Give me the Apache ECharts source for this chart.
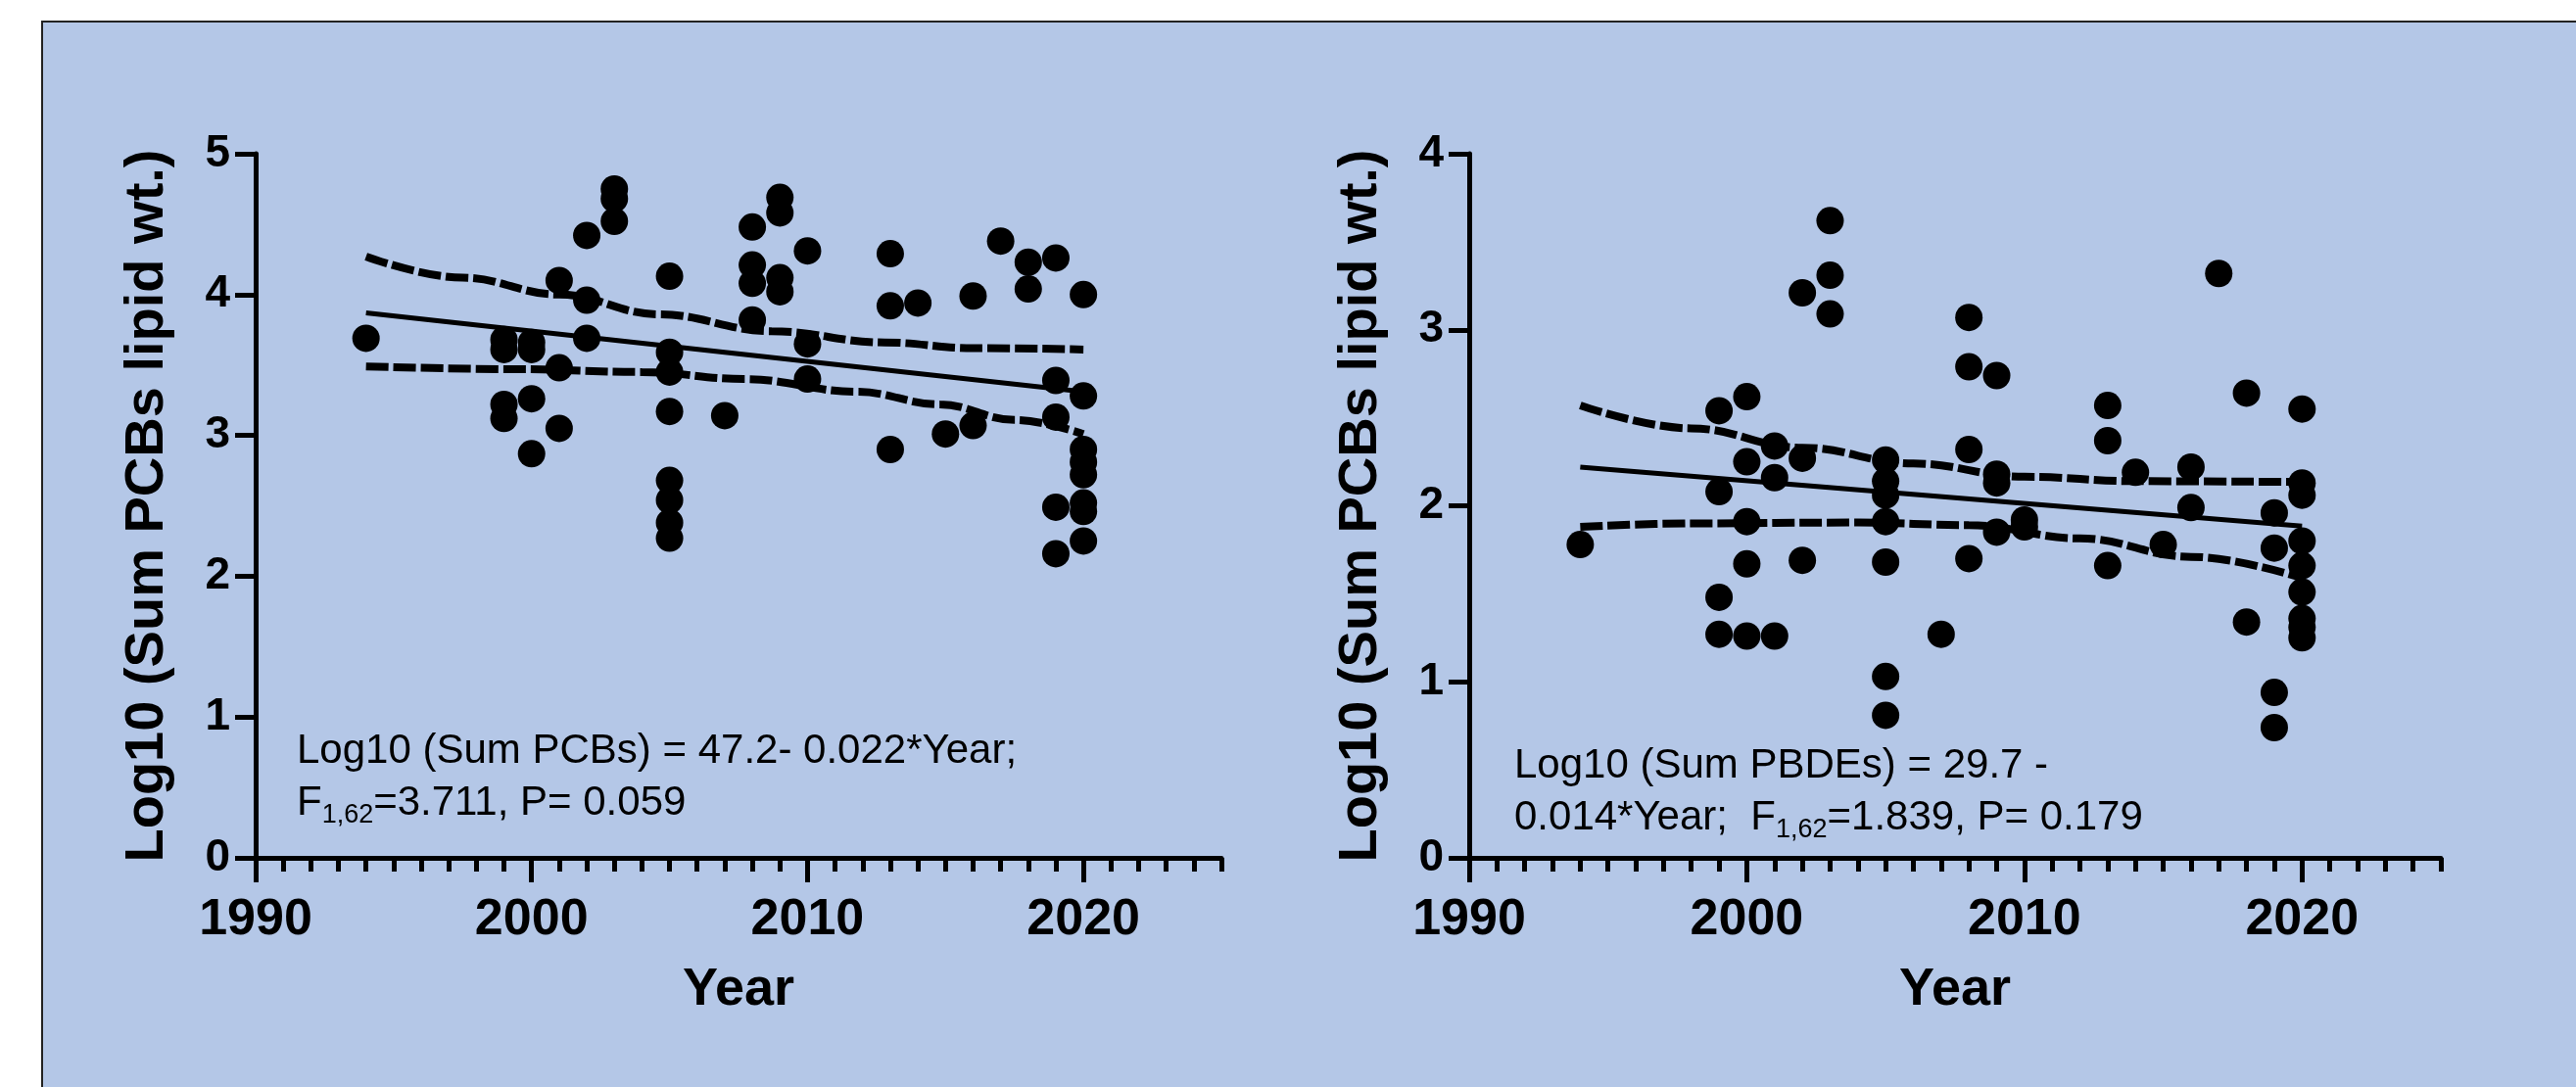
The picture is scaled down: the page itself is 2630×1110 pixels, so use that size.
<!DOCTYPE html>
<html><head><meta charset="utf-8">
<script src="https://cdn.jsdelivr.net/npm/echarts@6/dist/echarts.min.js"></script>
<style>html,body{margin:0;padding:0;background:#fff}#c{width:2630px;height:1110px}</style>
</head><body><div id="c"></div>
<script>
// ---- Left panel: Sum PCBs ----
const pcbYear = [1994,
  1999,1999,1999,1999,
  2000,2000,2000,2000,
  2001,2001,2001,
  2002,2002,2002,
  2003,2003,2003,
  2005,2005,2005,2005,2005,2005,2005,2005,
  2007,
  2008,2008,2008,2008,
  2009,2009,2009,2009,
  2010,2010,2010,
  2013,2013,2013,
  2014,2015,2016,2016,2017,2018,2018,
  2019,2019,2019,2019,2019,
  2020,2020,2020,2020,2020,2020,2020,2020];
const pcbVal = [3.69,
  3.68,3.61,3.22,3.12,
  3.66,3.61,3.26,2.87,
  4.10,3.48,3.05,
  4.42,3.96,3.69,
  4.75,4.68,4.52,
  4.13,3.59,3.45,3.17,2.68,2.54,2.38,2.27,
  3.14,
  4.48,4.21,4.08,3.82,
  4.69,4.58,4.12,4.02,
  4.31,3.65,3.40,
  4.29,3.92,2.90,
  3.94,3.01,3.99,3.07,4.38,4.23,4.04,
  4.26,3.39,3.13,2.49,2.16,
  4.00,3.28,2.90,2.81,2.72,2.52,2.46,2.25];
const pcbFitYear = [1994, 2020];
const pcbFitVal = [3.87, 3.31];
const pcbUpYear = [1994, 1997.5, 2001, 2004.6, 2008.7, 2012.8, 2016, 2020];
const pcbUpVal = [4.27, 4.12, 4.00, 3.86, 3.74, 3.66, 3.62, 3.61];
const pcbLoYear = [1994, 1999.5, 2004, 2007.7, 2011.8, 2014.8, 2017.5, 2020];
const pcbLoVal = [3.49, 3.47, 3.45, 3.40, 3.31, 3.22, 3.11, 3.01];

// ---- Right panel: Sum PBDEs ----
const pbdeYear = [1994,
  1999,1999,1999,1999,
  2000,2000,2000,2000,2000,
  2001,2001,2001,
  2002,2002,2002,
  2003,2003,2003,
  2005,2005,2005,2005,2005,2005,2005,
  2007,
  2008,2008,2008,2008,
  2009,2009,2009,2009,
  2010,2010,
  2013,2013,2013,
  2014,2015,2016,2016,2017,2018,2018,
  2019,2019,2019,2019,
  2020,2020,2020,2020,2020,2020,2020,2020,2020];
const pbdeVal = [1.78,
  2.54,2.08,1.48,1.27,
  2.62,2.25,1.91,1.67,1.26,
  2.34,2.16,1.26,
  3.21,2.27,1.69,
  3.62,3.31,3.09,
  2.26,2.14,2.06,1.91,1.68,1.03,0.81,
  1.27,
  3.07,2.79,2.32,1.70,
  2.74,2.18,2.13,1.85,
  1.92,1.88,
  2.57,2.37,1.66,
  2.19,1.78,2.22,1.99,3.32,2.64,1.34,
  1.96,1.76,0.94,0.74,
  2.55,2.13,2.06,1.80,1.66,1.51,1.36,1.31,1.25];
const pbdeFitYear = [1994, 2020];
const pbdeFitVal = [2.22, 1.885];
const pbdeUpYear = [1994, 1998, 2002, 2006, 2010, 2014, 2020];
const pbdeUpVal = [2.57, 2.44, 2.33, 2.24, 2.165, 2.14, 2.135];
const pbdeLoYear = [1994, 1998, 2004, 2008, 2012, 2016, 2020];
const pbdeLoVal = [1.88, 1.90, 1.905, 1.89, 1.815, 1.71, 1.59];

// ---- Axes / labels ----
const xMajorTicks = [1990, 2000, 2010, 2020];
const xMin = 1990, xMax = 2025;
const yTitle = 'Log10 (Sum PCBs lipid wt.)';
const xTitle = 'Year';
const pcbEq1 = 'Log10 (Sum PCBs) = 47.2- 0.022*Year;';
const pcbEq2 = ['F', '1,62', '=3.711, P= 0.059'];
const pbdeEq1 = 'Log10 (Sum PBDEs) = 29.7 -';
const pbdeEq2 = ['0.014*Year;  F', '1,62', '=1.839, P= 0.179'];

const zip = (a, b) => a.map((v, i) => [v, b[i]]);
const BOLD = "'Liberation Sans', Arial, sans-serif";
const NARROW = "'Liberation Sans Narrow', 'Arial Narrow', 'Liberation Sans', Arial, sans-serif";

function xAxes(gi) {
  return [
    { // minor ticks + axis line
      type: 'value', gridIndex: gi, position: 'bottom', min: xMin, max: xMax, interval: 1,
      axisLine: { show: true, onZero: false, lineStyle: { color: '#000', width: 5 } },
      axisTick: { show: true, length: 14, lineStyle: { color: '#000', width: 5 } },
      axisLabel: { show: false }, splitLine: { show: false }
    },
    { // major ticks + labels + name
      type: 'value', gridIndex: gi, position: 'bottom', offset: 0, min: xMin, max: xMax, interval: 10,
      axisLine: { show: false, onZero: false },
      axisTick: { show: true, length: 25, customValues: xMajorTicks, lineStyle: { color: '#000', width: 5 } },
      axisLabel: { show: true, customValues: xMajorTicks, margin: 38, color: '#000',
        fontSize: 52, fontWeight: 'bold', fontFamily: NARROW, formatter: v => String(v) },
      splitLine: { show: false },
      name: xTitle, nameLocation: 'middle', nameGap: 108,
      nameTextStyle: { color: '#000', fontSize: 54, fontWeight: 'bold', fontFamily: BOLD }
    }
  ];
}
function yAxis(gi, max) {
  return {
    type: 'value', gridIndex: gi, min: 0, max: max, interval: 1,
    axisLine: { show: true, lineStyle: { color: '#000', width: 5 } },
    axisTick: { show: true, length: 21, lineStyle: { color: '#000', width: 5 } },
    axisLabel: { margin: 26, color: '#000', fontSize: 46, fontWeight: 'bold', fontFamily: BOLD },
    splitLine: { show: false },
    name: yTitle, nameLocation: 'middle', nameRotate: 90, nameGap: 82,
    nameTextStyle: { color: '#000', fontSize: 56, fontWeight: 'bold', fontFamily: BOLD }
  };
}
function scatter(xi, yi, xs, ys) {
  return { type: 'scatter', xAxisIndex: xi, yAxisIndex: yi, data: zip(xs, ys),
    symbol: 'circle', symbolSize: 28, itemStyle: { color: '#000', opacity: 1 }, z: 3, silent: true };
}
function line(xi, yi, xs, ys, dashed) {
  return { type: 'line', xAxisIndex: xi, yAxisIndex: yi, data: zip(xs, ys),
    showSymbol: false, symbol: 'none', smooth: dashed ? 0.4 : false, smoothMonotone: 'x',
    lineStyle: dashed ? { color: '#000', width: 8, type: [23, 5] } : { color: '#000', width: 5 },
    z: 4, silent: true };
}
function eqText(x, y, l1, l2) {
  return {
    type: 'text', left: x, top: y, z: 100,
    style: {
      text: '{n|' + l1 + '}\n{n|' + l2[0] + '}{s|' + l2[1] + '}{n|' + l2[2] + '}',
      rich: {
        n: { fontSize: 42, fontFamily: BOLD, color: '#000', lineHeight: 53 },
        s: { fontSize: 27, fontFamily: BOLD, color: '#000', lineHeight: 53, verticalAlign: 'bottom' }
      }
    }
  };
}

const chart = echarts.init(document.getElementById('c'), null, { renderer: 'canvas' });
chart.setOption({
  backgroundColor: '#ffffff',
  animation: false,
  grid: [
    { left: 261, top: 157, right: 2630 - 1247, bottom: 1110 - 876, containLabel: false },
    { left: 1500, top: 157, right: 2630 - 2492, bottom: 1110 - 876, containLabel: false }
  ],
  xAxis: [...xAxes(0), ...xAxes(1)],
  yAxis: [yAxis(0, 5), yAxis(1, 4)],
  series: [
    scatter(0, 0, pcbYear, pcbVal),
    line(0, 0, pcbFitYear, pcbFitVal, false),
    line(0, 0, pcbUpYear, pcbUpVal, true),
    line(0, 0, pcbLoYear, pcbLoVal, true),
    scatter(2, 1, pbdeYear, pbdeVal),
    line(2, 1, pbdeFitYear, pbdeFitVal, false),
    line(2, 1, pbdeUpYear, pbdeUpVal, true),
    line(2, 1, pbdeLoYear, pbdeLoVal, true)
  ],
  graphic: {
    elements: [
      { type: 'rect', left: 42, top: 21, z: -100, silent: true,
        shape: { width: 2700, height: 1200 },
        style: { fill: '#B4C7E7', stroke: '#222', lineWidth: 2 } },
      eqText(303, 746, pcbEq1, pcbEq2),
      eqText(1546, 761, pbdeEq1, pbdeEq2)
    ]
  }
});
</script>
</body></html>
